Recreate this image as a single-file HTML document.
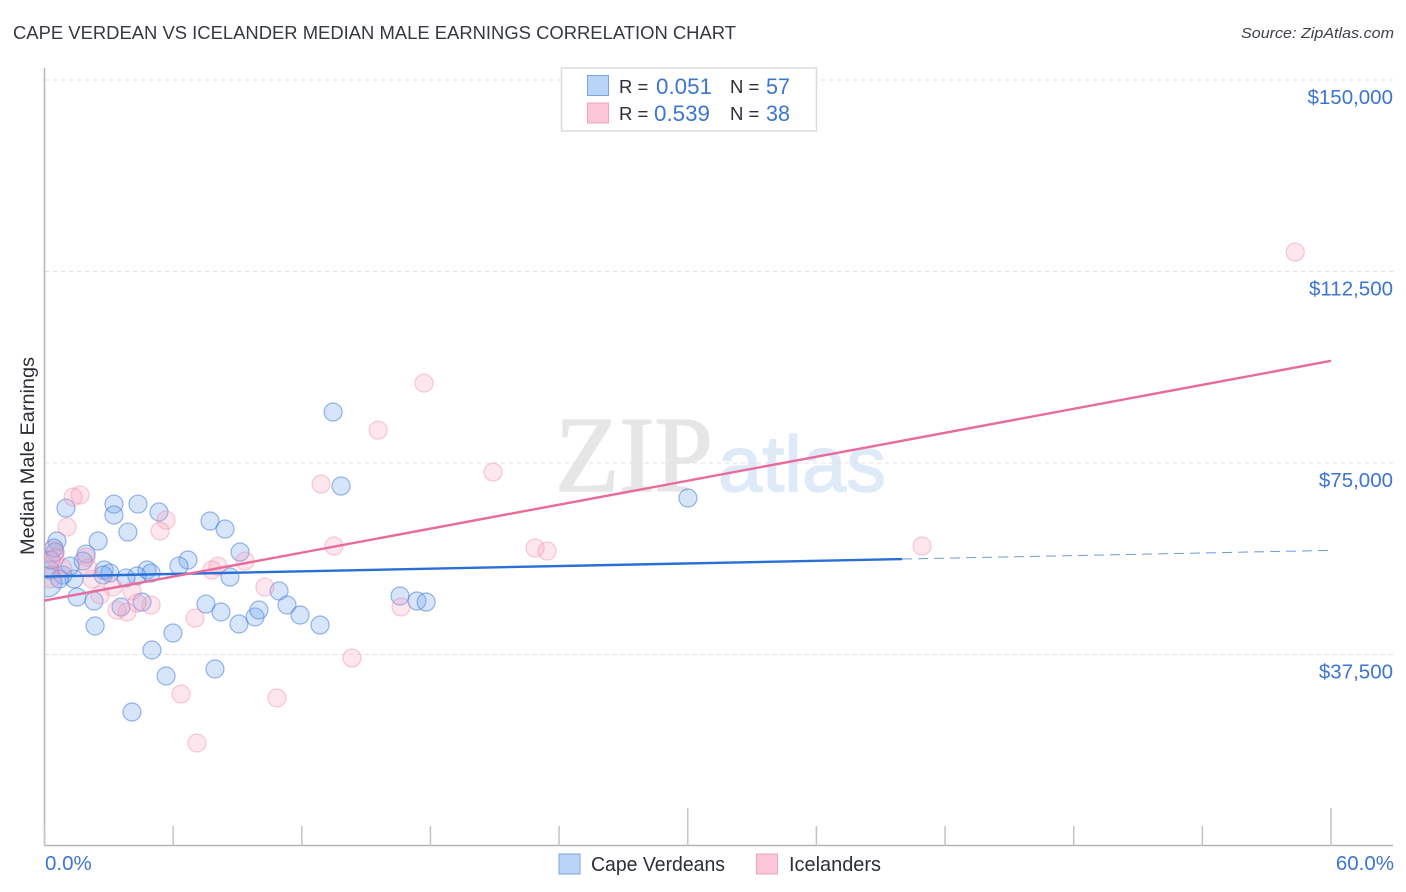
<!DOCTYPE html>
<html lang="en">
<head>
<meta charset="utf-8">
<title>Cape Verdean vs Icelander Median Male Earnings Correlation Chart</title>
<style>
html,body{margin:0;padding:0;background:#fff;width:1406px;height:892px;overflow:hidden}
svg{display:block;font-family:"Liberation Sans",sans-serif}
</style>
</head>
<body>
<svg id="chart" xmlns="http://www.w3.org/2000/svg" width="1406" height="892" viewBox="0 0 1406 892">
  <text x="13" y="39" font-size="18.6" fill="#353940" textLength="723" lengthAdjust="spacingAndGlyphs">CAPE VERDEAN VS ICELANDER MEDIAN MALE EARNINGS CORRELATION CHART</text>
  <text x="1394" y="38" font-size="15" font-style="italic" fill="#3d4148" text-anchor="end" textLength="153" lengthAdjust="spacingAndGlyphs">Source: ZipAtlas.com</text>
  <g>
    <text x="555" y="491" font-family="'Liberation Serif',serif" font-size="108" fill="#e6e6e6" stroke="#e6e6e6" stroke-width="1.5" textLength="158" lengthAdjust="spacingAndGlyphs">ZIP</text>
    <text x="718" y="491" font-size="79" fill="#dfeaf9" stroke="#dfeaf9" stroke-width="1.5" textLength="168" lengthAdjust="spacingAndGlyphs">atlas</text>
  </g>
  <g id="grid"></g>
  <g id="axes"></g>
  <g id="points-blue"></g>
  <g id="points-pink"></g>
  <g id="trends"></g>
  <g id="labels"></g>
  <text transform="translate(34,456) rotate(-90)" font-size="19" fill="#2b2f36" text-anchor="middle" textLength="198" lengthAdjust="spacingAndGlyphs">Median Male Earnings</text>
  <g>
    <rect x="561.5" y="68" width="255" height="63" fill="#fff" stroke="#dcdcdc" stroke-width="1.5"/>
    <rect x="587.5" y="75.5" width="21" height="20" fill="#b9d4f7" stroke="#7aa6e0" stroke-width="1"/>
    <rect x="587.5" y="103" width="21" height="20" fill="#fcc5d8" stroke="#f0a3bc" stroke-width="1"/>
    <text x="619" y="93" font-size="18.5" fill="#2b2f36">R =</text>
    <text x="656" y="94" font-size="22" fill="#3d75d3" textLength="56" lengthAdjust="spacingAndGlyphs">0.051</text>
    <text x="730" y="93" font-size="18.5" fill="#2b2f36">N =</text>
    <text x="766" y="94" font-size="22" fill="#3d75d3" textLength="24" lengthAdjust="spacingAndGlyphs">57</text>
    <text x="619" y="120" font-size="18.5" fill="#2b2f36">R =</text>
    <text x="654" y="121" font-size="22" fill="#3d75d3" textLength="56" lengthAdjust="spacingAndGlyphs">0.539</text>
    <text x="730" y="120" font-size="18.5" fill="#2b2f36">N =</text>
    <text x="766" y="121" font-size="22" fill="#3d75d3" textLength="24" lengthAdjust="spacingAndGlyphs">38</text>
  </g>
  <g>
    <rect x="559" y="854" width="21" height="20" fill="#b9d4f7" stroke="#7aa6e0" stroke-width="1"/>
    <text x="591" y="871" font-size="20" fill="#2b2f36" textLength="134" lengthAdjust="spacingAndGlyphs">Cape Verdeans</text>
    <rect x="756.5" y="854" width="21" height="20" fill="#fcc5d8" stroke="#f0a3bc" stroke-width="1"/>
    <text x="789" y="871" font-size="20" fill="#2b2f36" textLength="92" lengthAdjust="spacingAndGlyphs">Icelanders</text>
  </g>
</svg>
<script>
// Chart data
var yTickValues = [37500, 75000, 112500, 150000];
var yTickLabels = ["$37,500", "$75,000", "$112,500", "$150,000"];
var xTickValues = [0, 6, 12, 18, 24, 30, 36, 42, 48, 54, 60];
var xMajorTicks = [30, 60];
var xEdgeLabels = ["0.0%", "60.0%"];

var blueX = [1.00,3.24,3.24,4.36,5.34,3.89,2.50,0.58,7.72,8.42,9.12,6.69,6.27,8.65,1.94,1.80,4.78,4.97,4.31,3.80,2.78,3.05,2.73,1.38,0.86,0.12,1.52,2.31,3.57,4.55,2.36,5.99,5.01,7.53,8.23,9.07,9.82,10.00,10.94,11.31,11.92,12.85,7.95,5.67,4.08,13.46,13.83,30.01,16.58,17.37,17.80,0.49,1.19,0.26,0.44,0.30,0.70];
var blueY = [66180,66960,64810,66960,65400,61480,59720,59720,63635,62070,57565,56000,54820,52670,57170,55800,54040,53450,52870,52470,54040,53450,53060,52280,53060,51690,48750,47970,46800,47775,43080,41705,38380,47380,45820,43470,44840,46210,49930,47190,45230,43270,34660,33290,26240,84980,70490,68140,48950,47970,47775,57565,54820,54040,58350,56000,52280];
var blueWeight = [1,1,1,1,1,1,1,1,1,1,1,1,1,1,1,1,1,1,1,1,1,1,1,1,1,1.65,1,1,1,1,1,1,1,1,1,1,1,1,1,1,1,1,1,1,1,1,1,1,1,1,1,1,1,1,1,1,1];

var pinkX = [1.66,1.33,1.05,5.67,5.39,8.09,7.81,9.35,10.28,7.02,4.97,4.31,3.85,3.38,4.08,3.19,2.59,2.22,1.94,0.86,0.40,0.26,2.03,0.49,58.33,17.70,15.56,20.92,12.90,13.50,22.88,23.44,40.93,16.63,14.34,10.84,6.37,7.11];
var pinkY = [68730,68330,62460,63830,61680,54820,54040,55800,50710,44640,47190,47580,45820,46210,49930,50710,49150,52280,56590,54430,57565,52670,54430,56390,116300,90650,81450,73230,70880,58740,58350,57760,58740,46800,36810,28980,29760,20170];
var pinkWeight = [1,1,1,1,1,1,1,1,1,1,1,1,1,1,1,1,1,1,1,1,1.2,1.2,1,1,1,1,1,1,1,1,1,1,1,1,1,1,1,1];

var blueTrendX = [0, 40, 60];
var blueTrendY = [52760, 56190, 57890];
var pinkTrendX = [0, 60];
var pinkTrendY = [48060, 95000];

// Axis functions
function xScale(v) { return 44.5 + v * (1286.5 / 60); }
function yScale(v) { return 846 - v * (191.5 / 37500); }

var NS = 'http://www.w3.org/2000/svg';
function make(parent, tag, attrs, text) {
  var el = document.createElementNS(NS, tag);
  for (var k in attrs) el.setAttribute(k, attrs[k]);
  if (text !== undefined) el.textContent = text;
  parent.appendChild(el);
  return el;
}

var grid = document.getElementById('grid');
var axes = document.getElementById('axes');
var labels = document.getElementById('labels');

yTickValues.forEach(function (v, i) {
  var line = make(grid, 'line', {x1: 45, x2: 1393, y1: yScale(v), y2: yScale(v), stroke: '#e0e0e0', 'stroke-width': 1, 'stroke-dasharray': '4 4'});
  
  
  var t = make(labels, 'text', {x: 1393, y: yScale(v) + 24, 'font-size': 20.5, fill: '#3d75d3', 'text-anchor': 'end'}, yTickLabels[i]);
  
  
});

var yAxis = make(axes, 'line', {x1: 44.5, x2: 44.5, y1: 68, y2: 846, stroke: '#b5b5b5', 'stroke-width': 1.5});


var xAxis = make(axes, 'line', {x1: 44, x2: 1393, y1: 845.5, y2: 845.5, stroke: '#b5b5b5', 'stroke-width': 1.5});



xTickValues.forEach(function (v) {
  var top = xMajorTicks.indexOf(v) >= 0 ? 808 : 826;
  var tick = make(axes, 'line', {x1: xScale(v), x2: xScale(v), y1: top, y2: 846, stroke: '#c4c4c4', 'stroke-width': 1.5});
  
  
});

var x0 = make(labels, 'text', {x: 45, y: 870, 'font-size': 20.5, fill: '#3d75d3'}, xEdgeLabels[0]);


var x1 = make(labels, 'text', {x: 1394, y: 870, 'font-size': 20.5, fill: '#3d75d3', 'text-anchor': 'end'}, xEdgeLabels[1]);



var clip = make(document.getElementById('chart'), 'clipPath', {id: 'plot-clip'});
make(clip, 'rect', {x: 45, y: 60, width: 1350, height: 786});

function drawPoints(groupId, xs, ys, weights, fill, stroke) {
  var g = document.getElementById(groupId);
  g.setAttribute('clip-path', 'url(#plot-clip)');
  xs.forEach(function (v, i) {
    var c = make(g, 'circle', {cx: xScale(v), cy: yScale(ys[i]), r: 9 * weights[i], fill: fill, stroke: stroke, 'stroke-width': 1.2});
    
    
  });
}
drawPoints('points-blue', blueX, blueY, blueWeight, 'rgba(120,170,240,0.3)', 'rgba(70,125,215,0.55)');
drawPoints('points-pink', pinkX, pinkY, pinkWeight, 'rgba(250,160,190,0.26)', 'rgba(240,130,165,0.42)');

var trends = document.getElementById('trends');
var blueSolid = make(trends, 'line', {x1: xScale(blueTrendX[0]), y1: yScale(blueTrendY[0]), x2: xScale(blueTrendX[1]), y2: yScale(blueTrendY[1]), stroke: '#2a6fd6', 'stroke-width': 2.4});


var blueDash = make(trends, 'line', {x1: xScale(blueTrendX[1]), y1: yScale(blueTrendY[1]), x2: xScale(blueTrendX[2]), y2: yScale(blueTrendY[2]), stroke: '#6c9adb', 'stroke-width': 1, 'stroke-dasharray': '10 6'});


var pinkLine = make(trends, 'line', {x1: xScale(pinkTrendX[0]), y1: yScale(pinkTrendY[0]), x2: xScale(pinkTrendX[1]), y2: yScale(pinkTrendY[1]), stroke: '#e96b9c', 'stroke-width': 2.4});


</script>
</body>
</html>
